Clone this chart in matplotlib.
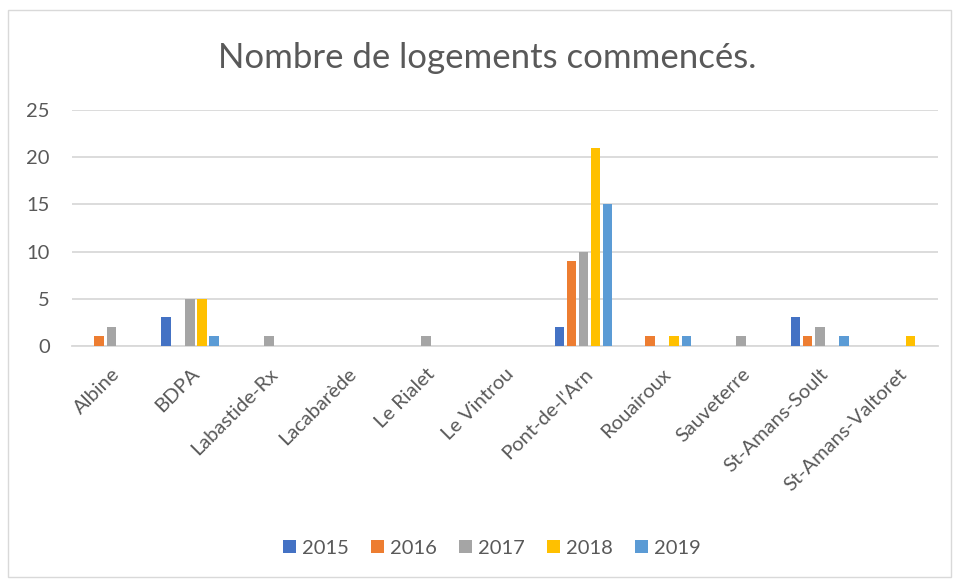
import numpy as np
import matplotlib
matplotlib.use('Agg')
import matplotlib.pyplot as plt
from matplotlib.patches import Rectangle

communes = ['Albine', 'BDPA', 'Labastide-Rx', 'Lacabarède', 'Le Rialet', 'Le Vintrou',
            "Pont-de-l'Arn", 'Rouairoux', 'Sauveterre', 'St-Amans-Soult', 'St-Amans-Valtoret']
years = ['2015', '2016', '2017', '2018', '2019']

v2015 = [0, 3, 0, 0, 0, 0, 2, 0, 0, 3, 0]
v2016 = [1, 0, 0, 0, 0, 0, 9, 1, 0, 1, 0]
v2017 = [2, 5, 1, 0, 1, 0, 10, 0, 1, 2, 0]
v2018 = [0, 5, 0, 0, 0, 0, 21, 1, 0, 0, 1]
v2019 = [0, 1, 0, 0, 0, 0, 15, 1, 0, 1, 0]

series = [v2015, v2016, v2017, v2018, v2019]
colors = ['#4472C4', '#ED7D31', '#A5A5A5', '#FFC000', '#5B9BD5']
TEXT = '#595959'

plt.rcParams['font.family'] = ['Lato', 'DejaVu Sans']

fig = plt.figure(figsize=(9.55, 5.8), dpi=100)
ax = fig.add_axes([0.0754, 0.404, 0.9065, 0.4057])

x = np.arange(len(communes))
step = 0.153
for i, (vals, c, yr) in enumerate(zip(series, colors, years)):
    ax.bar(x + (i - 2) * step, vals, width=0.123, color=c, linewidth=0,
           label=yr, zorder=3)

ax.set_xlim(-0.5, len(communes) - 0.5)
ax.set_ylim(0, 25)
ax.set_yticks([0, 5, 10, 15, 20, 25])
ax.grid(axis='y', color='#D9D9D9', linewidth=1.3, zorder=0)
for s in ['top', 'right', 'left']:
    ax.spines[s].set_visible(False)
ax.spines['bottom'].set_color('#D9D9D9')
ax.spines['bottom'].set_linewidth(1.3)
ax.tick_params(length=0, colors=TEXT, labelsize=14.5)
ax.tick_params(axis='y', pad=16)
ax.tick_params(axis='x', pad=14)
ax.set_xticks(x)
ax.set_xticklabels(communes, rotation=45, ha='right', rotation_mode='anchor')

fig.text(0.51, 0.9, 'Nombre de logements commencés.', ha='center', va='center',
         fontsize=25, color=TEXT)

leg = fig.legend(loc='center', bbox_to_anchor=(0.515, 0.055), ncol=5, frameon=False,
                 fontsize=14.5, handlelength=0.65, handleheight=0.65, handletextpad=0.3,
                 columnspacing=1.1)
for t in leg.get_texts():
    t.set_color(TEXT)

fig.patches.append(Rectangle((0.008, 0.005), 0.988, 0.978, transform=fig.transFigure,
                             fill=False, edgecolor='#D9D9D9', linewidth=1))

fig.savefig('out.png', dpi=100)
plt.close(fig)
